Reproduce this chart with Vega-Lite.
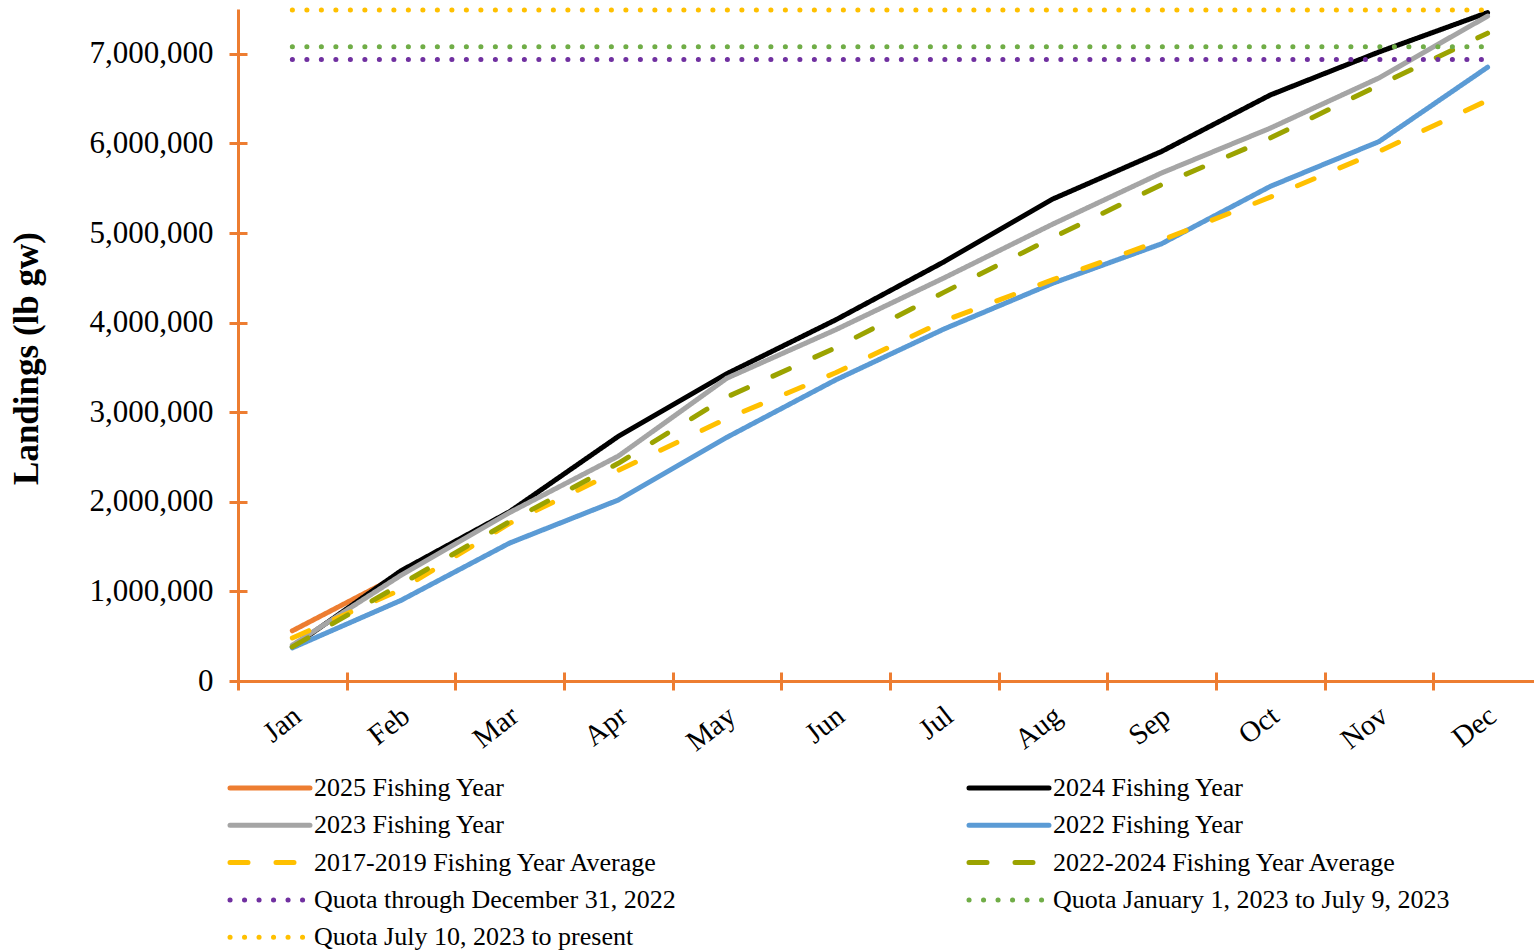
{
  "$schema": "https://vega.github.io/schema/vega-lite/v6.json",
  "width": 1296,
  "height": 672,
  "autosize": {"type": "none"},
  "padding": {"left": 238, "top": 9, "right": 0, "bottom": 270},
  "background": "white",
  "config": {"view": {"stroke": null}, "font": "Liberation Serif"},
  "data": {
    "values": [
      {"month": 1, "series": "2025 Fishing Year", "landings": 560000},
      {"month": 2, "series": "2025 Fishing Year", "landings": 1190000},

      {"month": 1, "series": "2024 Fishing Year", "landings": 380000},
      {"month": 2, "series": "2024 Fishing Year", "landings": 1230000},
      {"month": 3, "series": "2024 Fishing Year", "landings": 1890000},
      {"month": 4, "series": "2024 Fishing Year", "landings": 2730000},
      {"month": 5, "series": "2024 Fishing Year", "landings": 3430000},
      {"month": 6, "series": "2024 Fishing Year", "landings": 4030000},
      {"month": 7, "series": "2024 Fishing Year", "landings": 4680000},
      {"month": 8, "series": "2024 Fishing Year", "landings": 5380000},
      {"month": 9, "series": "2024 Fishing Year", "landings": 5910000},
      {"month": 10, "series": "2024 Fishing Year", "landings": 6540000},
      {"month": 11, "series": "2024 Fishing Year", "landings": 7020000},
      {"month": 12, "series": "2024 Fishing Year", "landings": 7460000},

      {"month": 1, "series": "2023 Fishing Year", "landings": 400000},
      {"month": 2, "series": "2023 Fishing Year", "landings": 1180000},
      {"month": 3, "series": "2023 Fishing Year", "landings": 1880000},
      {"month": 4, "series": "2023 Fishing Year", "landings": 2510000},
      {"month": 5, "series": "2023 Fishing Year", "landings": 3380000},
      {"month": 6, "series": "2023 Fishing Year", "landings": 3920000},
      {"month": 7, "series": "2023 Fishing Year", "landings": 4500000},
      {"month": 8, "series": "2023 Fishing Year", "landings": 5100000},
      {"month": 9, "series": "2023 Fishing Year", "landings": 5670000},
      {"month": 10, "series": "2023 Fishing Year", "landings": 6170000},
      {"month": 11, "series": "2023 Fishing Year", "landings": 6730000},
      {"month": 12, "series": "2023 Fishing Year", "landings": 7420000},

      {"month": 1, "series": "2022 Fishing Year", "landings": 370000},
      {"month": 2, "series": "2022 Fishing Year", "landings": 900000},
      {"month": 3, "series": "2022 Fishing Year", "landings": 1540000},
      {"month": 4, "series": "2022 Fishing Year", "landings": 2020000},
      {"month": 5, "series": "2022 Fishing Year", "landings": 2720000},
      {"month": 6, "series": "2022 Fishing Year", "landings": 3360000},
      {"month": 7, "series": "2022 Fishing Year", "landings": 3930000},
      {"month": 8, "series": "2022 Fishing Year", "landings": 4440000},
      {"month": 9, "series": "2022 Fishing Year", "landings": 4880000},
      {"month": 10, "series": "2022 Fishing Year", "landings": 5520000},
      {"month": 11, "series": "2022 Fishing Year", "landings": 6020000},
      {"month": 12, "series": "2022 Fishing Year", "landings": 6850000},

      {"month": 1, "series": "2017-2019 Fishing Year Average", "landings": 480000},
      {"month": 2, "series": "2017-2019 Fishing Year Average", "landings": 1020000},
      {"month": 3, "series": "2017-2019 Fishing Year Average", "landings": 1760000},
      {"month": 4, "series": "2017-2019 Fishing Year Average", "landings": 2350000},
      {"month": 5, "series": "2017-2019 Fishing Year Average", "landings": 2930000},
      {"month": 6, "series": "2017-2019 Fishing Year Average", "landings": 3440000},
      {"month": 7, "series": "2017-2019 Fishing Year Average", "landings": 4020000},
      {"month": 8, "series": "2017-2019 Fishing Year Average", "landings": 4480000},
      {"month": 9, "series": "2017-2019 Fishing Year Average", "landings": 4920000},
      {"month": 10, "series": "2017-2019 Fishing Year Average", "landings": 5400000},
      {"month": 11, "series": "2017-2019 Fishing Year Average", "landings": 5910000},
      {"month": 12, "series": "2017-2019 Fishing Year Average", "landings": 6480000},

      {"month": 1, "series": "2022-2024 Fishing Year Average", "landings": 380000},
      {"month": 2, "series": "2022-2024 Fishing Year Average", "landings": 1080000},
      {"month": 3, "series": "2022-2024 Fishing Year Average", "landings": 1780000},
      {"month": 4, "series": "2022-2024 Fishing Year Average", "landings": 2430000},
      {"month": 5, "series": "2022-2024 Fishing Year Average", "landings": 3170000},
      {"month": 6, "series": "2022-2024 Fishing Year Average", "landings": 3720000},
      {"month": 7, "series": "2022-2024 Fishing Year Average", "landings": 4340000},
      {"month": 8, "series": "2022-2024 Fishing Year Average", "landings": 4950000},
      {"month": 9, "series": "2022-2024 Fishing Year Average", "landings": 5540000},
      {"month": 10, "series": "2022-2024 Fishing Year Average", "landings": 6060000},
      {"month": 11, "series": "2022-2024 Fishing Year Average", "landings": 6650000},
      {"month": 12, "series": "2022-2024 Fishing Year Average", "landings": 7230000},

      {"month": 1, "series": "Quota through December 31, 2022", "landings": 6937000},
      {"month": 12, "series": "Quota through December 31, 2022", "landings": 6937000},
      {"month": 1, "series": "Quota January 1, 2023 to July 9, 2023", "landings": 7078000},
      {"month": 12, "series": "Quota January 1, 2023 to July 9, 2023", "landings": 7078000},
      {"month": 1, "series": "Quota  July 10, 2023 to present", "landings": 7488000},
      {"month": 12, "series": "Quota  July 10, 2023 to present", "landings": 7488000}
    ]
  },
  "layer": [
    {
      "mark": {"type": "line", "strokeCap": "round", "strokeJoin": "round"},
      "encoding": {
        "x": {
          "field": "month", "type": "quantitative",
          "scale": {"domain": [0.5, 12.4275], "nice": false, "zero": false},
          "axis": {
            "orient": "bottom",
            "values": [0.5, 1.5, 2.5, 3.5, 4.5, 5.5, 6.5, 7.5, 8.5, 9.5, 10.5, 11.5],
            "labelExpr": "['Jan','Feb','Mar','Apr','May','Jun','Jul','Aug','Sep','Oct','Nov','Dec'][floor(datum.value)]",
            "domainColor": "#ED7D31", "domainWidth": 3,
            "tickColor": "#ED7D31", "tickWidth": 3, "tickSize": 9,
            "labelAngle": -38, "labelAlign": "right", "labelBaseline": "middle",
            "labelOffset": 59, "labelPadding": 22,
            "labelFont": "Liberation Serif", "labelFontSize": 29, "labelColor": "#000000",
            "labelOverlap": false, "labelFlush": false, "labelBound": false,
            "title": null, "grid": false
          }
        },
        "y": {
          "field": "landings", "type": "quantitative",
          "scale": {"domain": [0, 7500000], "nice": false},
          "axis": {
            "orient": "left",
            "values": [0, 1000000, 2000000, 3000000, 4000000, 5000000, 6000000, 7000000],
            "format": ",d",
            "domainColor": "#ED7D31", "domainWidth": 3,
            "tickColor": "#ED7D31", "tickWidth": 3, "tickSize": 9,
            "labelPadding": 16,
            "labelFont": "Liberation Serif", "labelFontSize": 31, "labelColor": "#000000",
            "labelOverlap": false, "labelFlush": false,
            "title": "Landings (lb gw)",
            "titleFont": "Liberation Serif", "titleFontSize": 35, "titleFontWeight": "bold", "titleColor": "#000000",
            "titleAngle": -90, "titleAlign": "center", "titleBaseline": "alphabetic",
            "titleX": -201, "titleY": 349,
            "grid": false
          }
        },
        "color": {
          "field": "series", "type": "nominal",
          "scale": {
            "domain": ["2025 Fishing Year", "2023 Fishing Year", "2017-2019 Fishing Year Average", "Quota through December 31, 2022", "Quota  July 10, 2023 to present", "2024 Fishing Year", "2022 Fishing Year", "2022-2024 Fishing Year Average", "Quota January 1, 2023 to July 9, 2023"],
            "range": ["#ED7D31", "#A5A5A5", "#FFC000", "#7030A0", "#FFC000", "#000000", "#5B9BD5", "#9BA300", "#70AD47"]
          },
          "legend": {
            "orient": "none", "legendX": -11, "legendY": 766,
            "columns": 2, "columnPadding": 283, "rowPadding": 11.3,
            "title": null, "padding": 0,
            "symbolType": "M-1,0H7", "symbolSize": 400, "symbolStrokeWidth": 5,
            "labelFont": "Liberation Serif", "labelFontSize": 26, "labelColor": "#000000",
            "labelOffset": 61, "labelLimit": 700,
            "encode": {"symbols": {"update": {"strokeCap": {"value": "round"}}}}
          }
        },
        "strokeDash": {
          "field": "series", "type": "nominal",
          "scale": {
            "domain": ["2025 Fishing Year", "2023 Fishing Year", "2017-2019 Fishing Year Average", "Quota through December 31, 2022", "Quota  July 10, 2023 to present", "2024 Fishing Year", "2022 Fishing Year", "2022-2024 Fishing Year Average", "Quota January 1, 2023 to July 9, 2023"],
            "range": [[1, 0], [1, 0], [18, 28], [0.1, 14.4], [0.1, 14.4], [1, 0], [1, 0], [18, 28], [0.1, 14.4]]
          },
          "legend": {
            "orient": "none", "legendX": -11, "legendY": 766,
            "columns": 2, "columnPadding": 283, "rowPadding": 11.3,
            "title": null, "padding": 0,
            "symbolType": "M-1,0H7", "symbolSize": 400, "symbolStrokeWidth": 5,
            "labelFont": "Liberation Serif", "labelFontSize": 26, "labelColor": "#000000",
            "labelOffset": 61, "labelLimit": 700,
            "encode": {"symbols": {"update": {"strokeCap": {"value": "round"}}}}
          }
        },
        "strokeWidth": {
          "field": "series", "type": "nominal",
          "scale": {
            "domain": ["2025 Fishing Year", "2023 Fishing Year", "2017-2019 Fishing Year Average", "Quota through December 31, 2022", "Quota  July 10, 2023 to present", "2024 Fishing Year", "2022 Fishing Year", "2022-2024 Fishing Year Average", "Quota January 1, 2023 to July 9, 2023"],
            "range": [5, 5, 5.5, 6, 6, 5, 5, 5.5, 6]
          },
          "legend": null
        }
      }
    },
    {
      "mark": {"type": "line", "opacity": 0},
      "encoding": {
        "x": {
          "field": "month", "type": "quantitative",
          "axis": {
            "orient": "bottom",
            "values": [0.5, 1.5, 2.5, 3.5, 4.5, 5.5, 6.5, 7.5, 8.5, 9.5, 10.5, 11.5],
            "domain": false, "labels": false, "title": null, "grid": false,
            "tickColor": "#ED7D31", "tickWidth": 3, "tickSize": -9
          }
        },
        "y": {
          "field": "landings", "type": "quantitative",
          "axis": {
            "orient": "left",
            "values": [0, 1000000, 2000000, 3000000, 4000000, 5000000, 6000000, 7000000],
            "domain": false, "labels": false, "title": null, "grid": false,
            "tickColor": "#ED7D31", "tickWidth": 3, "tickSize": -9
          }
        },
        "detail": {"field": "series", "type": "nominal"}
      }
    }
  ],
  "resolve": {"axis": {"x": "independent", "y": "independent"}}
}
